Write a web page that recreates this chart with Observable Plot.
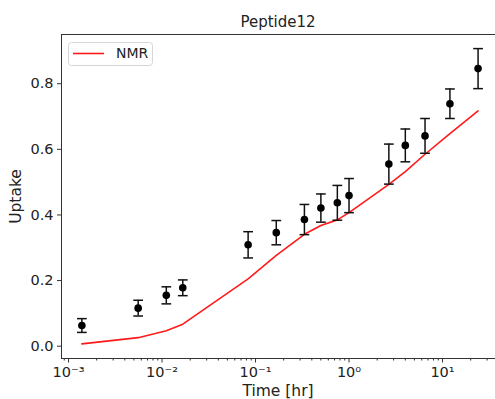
<!DOCTYPE html>
<html>
<head>
<meta charset="utf-8">
<script src="https://cdn.jsdelivr.net/npm/d3@7"></script>
<script src="https://cdn.jsdelivr.net/npm/@observablehq/plot@0.6"></script>
<style>
  html, body { margin: 0; padding: 0; background: #fff; }
  #chart { position: relative; width: 495px; height: 399px; }
  #chart svg, #chart svg text { font-family: "DejaVu Sans", sans-serif; }
</style>
</head>
<body>
<div id="chart"></div>
<script>
const title = "Peptide12";
const xLabel = "Time [hr]";
const yLabel = "Uptake";
const seriesName = "NMR";

const times  = [0.001389, 0.005556, 0.01111, 0.01667, 0.08333, 0.1667, 0.3333, 0.5, 0.75, 1, 2.667, 4, 6.5, 12, 24];
const uptake = [0.063, 0.116, 0.155, 0.178, 0.309, 0.346, 0.386, 0.421, 0.437, 0.459, 0.555, 0.612, 0.641, 0.739, 0.846];
const errs   = [0.021, 0.024, 0.026, 0.024, 0.040, 0.037, 0.046, 0.043, 0.053, 0.052, 0.061, 0.050, 0.053, 0.045, 0.061];
const nmr    = [0.007, 0.026, 0.047, 0.067, 0.205, 0.277, 0.341, 0.368, 0.385, 0.407, 0.493, 0.532, 0.585, 0.648, 0.717];

const xMajorTicks = [1e-3, 1e-2, 1e-1, 1e0, 1e1];
const xMajorLabels = ["10\u207B\u00B3", "10\u207B\u00B2", "10\u207B\u00B9", "10\u2070", "10\u00B9"];
const yTicks = [0, 0.2, 0.4, 0.6, 0.8];

const minorTicks = [];
for (let e = -4; e <= 1; e++) for (let m = 2; m <= 9; m++) {
  const v = m * Math.pow(10, e);
  if (v > 0.00084 && v < 36) minorTicks.push(v);
}

const points = times.map((t, i) => ({t, y: uptake[i], lo: uptake[i] - errs[i], hi: uptake[i] + errs[i]}));
const line = times.map((t, i) => ({t, y: nmr[i]}));

const capSymbol = {
  draw(ctx, size) {
    const w = Math.sqrt(size) / 2;
    ctx.moveTo(-w, 0);
    ctx.lineTo(w, 0);
  }
};

const font = "DejaVu Sans, sans-serif";
const axisColor = "#333";

const plot = Plot.plot({
  width: 495,
  height: 399,
  marginLeft: 61,
  marginRight: 1,
  marginTop: 34,
  marginBottom: 41,
  style: {fontFamily: font, fontSize: "14px", color: "#222", background: "#fff", overflow: "visible"},
  x: {type: "log", domain: [0.000841, 35.97]},
  y: {domain: [-0.0375, 0.950]},
  marks: [
    Plot.frame({anchor: "top", stroke: axisColor}),
    Plot.frame({anchor: "left", stroke: axisColor}),
    Plot.frame({anchor: "bottom", stroke: axisColor}),
    Plot.axisX({ticks: minorTicks, tickSize: 2.5, tickFormat: () => "", stroke: axisColor, label: null}),
    Plot.axisX({ticks: xMajorTicks, tickSize: 4.5, tickPadding: 4, fontSize: 14.5,
      tickFormat: (d) => xMajorLabels[xMajorTicks.indexOf(d)], stroke: axisColor, label: null, fill: "#222"}),
    Plot.axisY({ticks: yTicks, tickSize: 4, tickPadding: 4, fontSize: 14.5, tickFormat: d3.format(".1f"),
      stroke: axisColor, label: null, fill: "#222"}),
    Plot.line(line, {x: "t", y: "y", stroke: "#ff1a1a", strokeWidth: 1.6}),
    Plot.ruleX(points, {x: "t", y1: "lo", y2: "hi", stroke: "#111", strokeWidth: 1.5}),
    Plot.dot(points, {x: "t", y: "lo", symbol: capSymbol, r: 5.5, stroke: "#111", strokeWidth: 1.5, fill: "none"}),
    Plot.dot(points, {x: "t", y: "hi", symbol: capSymbol, r: 5.5, stroke: "#111", strokeWidth: 1.5, fill: "none"}),
    Plot.dot(points, {x: "t", y: "y", r: 3.8, fill: "#000", stroke: "none"}),
    Plot.text([title], {frameAnchor: "top", dy: -7.5, lineAnchor: "bottom", fill: "#222", fontSize: 15}),
    Plot.text([xLabel], {frameAnchor: "bottom", dy: 37, lineAnchor: "bottom", fill: "#222", fontSize: 15.5}),
    Plot.text([yLabel], {frameAnchor: "left", dx: -45.5, rotate: -90, lineAnchor: "middle", textAnchor: "middle", fill: "#222", fontSize: 15.5})
  ]
});

document.getElementById("chart").appendChild(plot);

// Legend (drawn into the same SVG)
const svg = d3.select(plot);
const lg = svg.append("g").attr("font-family", font).attr("font-size", 14).attr("text-anchor", "start");
lg.append("rect").attr("x", 68.5).attr("y", 42.5).attr("width", 84).attr("height", 23)
  .attr("rx", 3).attr("fill", "#fff").attr("fill-opacity", 0.8).attr("stroke", "#d6d6d6");
lg.append("line").attr("x1", 73).attr("x2", 104).attr("y1", 53.5).attr("y2", 53.5)
  .attr("stroke", "#ff1a1a").attr("stroke-width", 1.6);
lg.append("text").attr("x", 116).attr("y", 53.5).attr("dy", "0.35em").attr("fill", "#222").text(seriesName);
</script>
</body>
</html>
